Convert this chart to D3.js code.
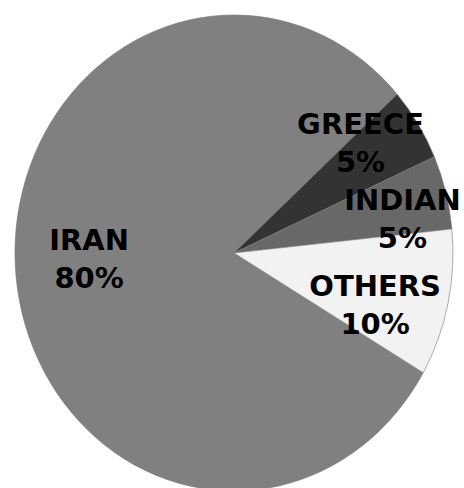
<!DOCTYPE html>
<html>
<head>
<meta charset="utf-8">
<script src="https://cdn.jsdelivr.net/npm/d3@7"></script>
<style>
  body { margin: 0; background: #fff; }
  svg { display: block; }
</style>
</head>
<body>
<div id="chart"></div>
<script>
// data
const categories = ["IRAN", "GREECE", "INDIAN", "OTHERS"];
const shares = [80, 5, 5, 10];
const pctLabels = ["80%", "5%", "5%", "10%"];

// styling / layout
const WIDTH = 464, HEIGHT = 488;
const CENTER = { X: 234, Y: 253 };
const RX = 219, RY = 238;
const colors = ["#808080", "#333333", "#686868", "#f2f2f2"];
// label nudges (in px) from the mid-angle point at LABEL_R
const LABEL_R = 0.72;
const labelNudge = [[12, -11], [-6, -17], [16, 10], [-13, 16]];

const svg = d3.select("#chart").append("svg")
    .attr("width", WIDTH)
    .attr("height", HEIGHT);

const startA = 120.2 * Math.PI / 180;
const pie = d3.pie().sort(null)
    .startAngle(startA)
    .endAngle(startA + 2 * Math.PI);

const arcs = pie(shares);

// unit-radius arc, stretched into an ellipse
const arc = d3.arc().innerRadius(0).outerRadius(1);

const g = svg.append("g")
    .attr("transform", `translate(${CENTER.X}, ${CENTER.Y}) scale(${RX}, ${RY})`);

g.selectAll("path")
    .data(arcs)
    .enter()
    .append("path")
    .attr("d", arc)
    .attr("fill", (d, i) => colors[i])
    .attr("stroke", "#777")
    .attr("stroke-width", 0.6)
    .attr("vector-effect", "non-scaling-stroke");

// labels
const labels = svg.append("g")
    .attr("font-family", "DejaVu Sans")
    .attr("font-weight", "bold")
    .attr("font-size", 29)
    .attr("fill", "#000")
    .attr("text-anchor", "middle");

arcs.forEach((d, i) => {
    const mid = (d.startAngle + d.endAngle) / 2;
    const x = CENTER.X + RX * LABEL_R * Math.sin(mid) + labelNudge[i][0];
    const y = CENTER.Y - RY * LABEL_R * Math.cos(mid) + labelNudge[i][1];
    const t = labels.append("text")
        .attr("x", x)
        .attr("y", y - 9);
    t.append("tspan").attr("x", x).text(categories[i]);
    t.append("tspan").attr("x", x).attr("dy", 38).text(pctLabels[i]);
});
</script>
</body>
</html>
